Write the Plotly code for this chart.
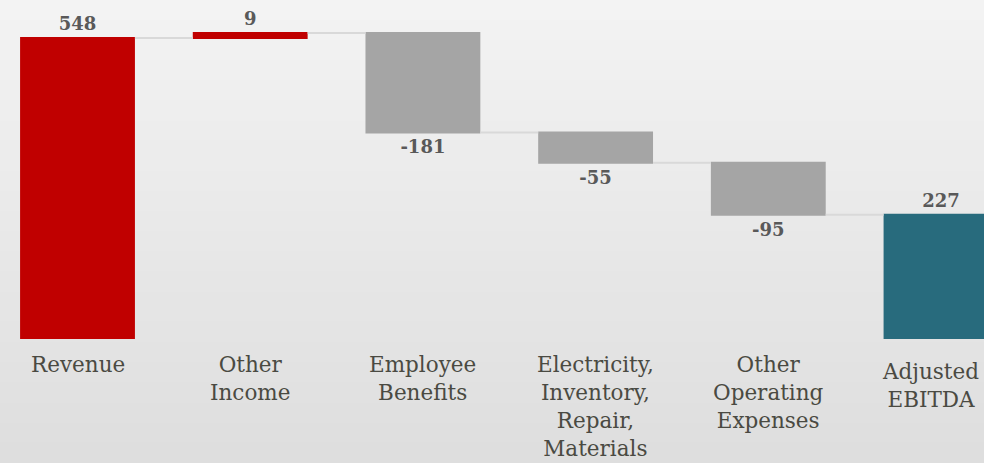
import plotly.graph_objects as go

categories = ["Revenue", "Other<br>Income", "Employee<br>Benefits",
              "Electricity,<br>Inventory,<br>Repair,<br>Materials",
              "Other<br>Operating<br>Expenses", "Adjusted<br>EBITDA"]
values = [548, 9, -181, -55, -95, 227]
measures = ["relative", "relative", "relative", "relative", "relative", "total"]
labels = ["548", "9", "-181", "-55", "-95", "227"]

W, H = 984, 463
B = 124
plot_h = H - B

fig = go.Figure(go.Waterfall(
    x=categories,
    y=values,
    measure=measures,
    text=labels,
    texttemplate="%{text}",
    textposition="outside",
    textfont=dict(family="DejaVu Serif", size=18, color="#595959", weight="bold"),
    width=0.665,
    increasing=dict(marker=dict(color="#C00000")),
    decreasing=dict(marker=dict(color="#A5A5A5")),
    totals=dict(marker=dict(color="#286B7D")),
    connector=dict(line=dict(color="#D9D9D9", width=2)),
    cliponaxis=False,
))

# vertical gradient background via stripes
shapes = []
n = 46
top = (243, 243, 243)
bot = (222, 222, 222)
for i in range(n):
    t = i / (n - 1)
    c = tuple(round(top[k] + (bot[k] - top[k]) * t) for k in range(3))
    y1 = H - H * i / n
    y0 = H - H * (i + 1) / n
    shapes.append(dict(type="rect", xref="paper", yref="paper", layer="below",
                       x0=-0.05, x1=1.05,
                       y0=(y0 - B) / plot_h - 0.001, y1=(y1 - B) / plot_h + 0.001,
                       line=dict(width=0), fillcolor="rgb(%d,%d,%d)" % c))

# category labels as annotations (last one sits a little lower / left, as in the source)
annotations = []
for i, cat in enumerate(categories):
    last = i == len(categories) - 1
    annotations.append(dict(
        x=cat, y=0, xref="x", yref="y", yanchor="top", xanchor="center",
        text=cat, showarrow=False, align="center",
        yshift=-11 if not last else -18, xshift=0 if not last else -11,
        font=dict(family="DejaVu Serif", size=21.5, color="#4A4A42"),
    ))

fig.update_layout(
    width=W, height=H,
    margin=dict(l=0, r=0, t=0, b=B),
    paper_bgcolor="#E2E2E2",
    plot_bgcolor="rgba(0,0,0,0)",
    showlegend=False,
    shapes=shapes,
    annotations=annotations,
    xaxis=dict(range=[-0.4488, 5.249], showgrid=False, zeroline=False, showline=False,
               showticklabels=False, ticks=""),
    yaxis=dict(range=[0, 617], visible=False),
)

fig.write_html("out.html")
